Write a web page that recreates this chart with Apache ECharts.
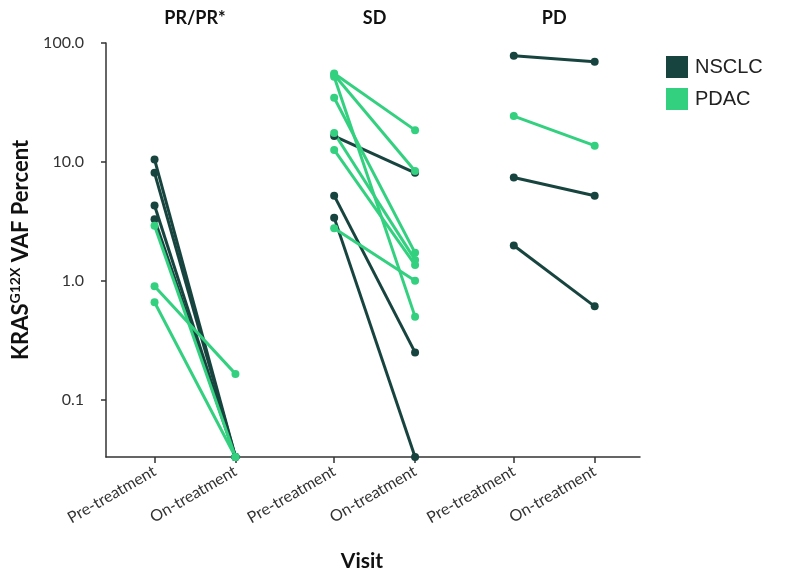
<!DOCTYPE html>
<html>
<head>
<meta charset="utf-8">
<script src="https://cdn.jsdelivr.net/npm/echarts@6/dist/echarts.min.js"></script>
<style>html,body{margin:0;padding:0;background:#fff}#c{width:790px;height:579px}</style>
</head>
<body>
<div id="c"></div>
<script>
// ---- data ----
const groups = ['PR/PR*', 'SD', 'PD'];
const visits = ['Pre-treatment', 'On-treatment'];
const cancers = ['NSCLC', 'PDAC'];
const yTickValues = [0.1, 1, 10, 100];

// PR/PR* group
const prNsclcPre = [10.5, 8.1, 4.3, 3.3];
const prNsclcOn  = [0.033, 0.033, 0.033, 0.033];
const prPdacPre  = [2.9, 0.9, 0.66];
const prPdacOn   = [0.033, 0.165, 0.033];
// SD group
const sdNsclcPre = [16.5, 5.2, 3.4];
const sdNsclcOn  = [8.1, 0.25, 0.033];
const sdPdacPre  = [55.5, 54, 52, 34.6, 17.5, 12.6, 2.77];
const sdPdacOn   = [18.5, 8.4, 0.5, 1.72, 1.5, 1.36, 1.0];
// PD group
const pdNsclcPre = [78, 7.4, 1.98];
const pdNsclcOn  = [69.4, 5.2, 0.61];
const pdPdacPre  = [24.3];
const pdPdacOn   = [13.7];

// ---- layout / style ----
const GROUP_GAP = 2.22;
const COLORS = { NSCLC: '#17443f', PDAC: '#33d07f' };
const xPos = [];
groups.forEach((g, gi) => visits.forEach((v, vi) => xPos.push(gi * GROUP_GAP + vi)));
const groupCenters = groups.map((g, gi) => gi * GROUP_GAP + 0.5);

const table = [
  { g: 0, c: 'NSCLC', pre: prNsclcPre, on: prNsclcOn },
  { g: 1, c: 'NSCLC', pre: sdNsclcPre, on: sdNsclcOn },
  { g: 2, c: 'NSCLC', pre: pdNsclcPre, on: pdNsclcOn },
  { g: 0, c: 'PDAC', pre: prPdacPre, on: prPdacOn },
  { g: 1, c: 'PDAC', pre: sdPdacPre, on: sdPdacOn },
  { g: 2, c: 'PDAC', pre: pdPdacPre, on: pdPdacOn }
];

const series = [];
table.forEach(t => {
  t.pre.forEach((p, i) => {
    series.push({
      name: t.c,
      type: 'line',
      xAxisIndex: 0,
      yAxisIndex: 0,
      symbol: 'circle',
      symbolSize: 8,
      lineStyle: { width: 3, color: COLORS[t.c] },
      itemStyle: { color: COLORS[t.c] },
      emphasis: { disabled: true },
      data: [[xPos[t.g * 2], p], [xPos[t.g * 2 + 1], t.on[i]]]
    });
  });
});

const idxOf = (arr, v) => arr.findIndex(p => Math.abs(p - v) < 1e-6);
const labelFont = 'Lato, "Open Sans", sans-serif';

const chart = echarts.init(document.getElementById('c'), null, { renderer: 'canvas' });
chart.setOption({
  animation: false,
  backgroundColor: '#fff',
  grid: { left: 106, right: 150, top: 43, bottom: 122, containLabel: false },
  legend: {
    data: cancers,
    orient: 'vertical',
    left: 661, top: 51,
    icon: 'rect',
    itemWidth: 22, itemHeight: 22, itemGap: 10,
    textStyle: { fontSize: 20, color: '#222', fontFamily: '"Liberation Sans", Arial, sans-serif', padding: [0, 0, 0, 2] }
  },
  xAxis: [
    {
      type: 'value', position: 'bottom',
      min: -0.6, max: 6.0,
      splitLine: { show: false },
      axisLine: { show: true, onZero: false, lineStyle: { color: '#333', width: 1.5 } },
      axisTick: { show: true, customValues: xPos, length: 6, lineStyle: { color: '#333', width: 1.5 } },
      axisLabel: {
        customValues: xPos,
        rotate: 30, margin: 13, fontSize: 16, color: '#333', fontFamily: labelFont,
        formatter: v => { const i = idxOf(xPos, v); return i >= 0 ? visits[i % 2] : ''; }
      },
      name: 'Visit', nameLocation: 'middle', nameGap: 94,
      nameTextStyle: { fontSize: 21, fontWeight: 'bold', color: '#111', fontFamily: labelFont, padding: [0, 22, 0, 0] }
    },
    {
      type: 'value', position: 'top',
      min: -0.6, max: 6.0,
      splitLine: { show: false },
      axisLine: { show: false, onZero: false },
      axisTick: { show: false },
      axisLabel: {
        customValues: groupCenters, margin: 16,
        fontSize: 18, fontWeight: 'bold', color: '#111', fontFamily: labelFont,
        formatter: v => { const i = idxOf(groupCenters, v); return i >= 0 ? groups[i] : ''; }
      }
    }
  ],
  yAxis: {
    type: 'log', logBase: 10,
    min: 0.033, max: 100,
    splitLine: { show: false },
    axisLine: { show: true, onZero: false, lineStyle: { color: '#333', width: 1.5 } },
    axisTick: { show: true, customValues: yTickValues, length: 5, lineStyle: { color: '#333', width: 1.5 } },
    axisLabel: {
      customValues: yTickValues, margin: 22, fontSize: 16, color: '#333', fontFamily: labelFont,
      formatter: v => Number(v).toFixed(1)
    },
    name: '{b|KRAS}{s|G12X}{b| VAF Percent}',
    nameLocation: 'middle', nameGap: 65,
    nameTextStyle: {
      fontFamily: labelFont, color: '#111',
      rich: {
        b: { fontSize: 22, fontWeight: 'bold', color: '#111', fontFamily: labelFont, lineHeight: 26 },
        s: { fontSize: 14, fontWeight: 'bold', color: '#111', fontFamily: labelFont, verticalAlign: 'top', lineHeight: 26, padding: [0, 0, 8, 0] }
      }
    }
  },
  series: series
});
</script>
</body>
</html>
